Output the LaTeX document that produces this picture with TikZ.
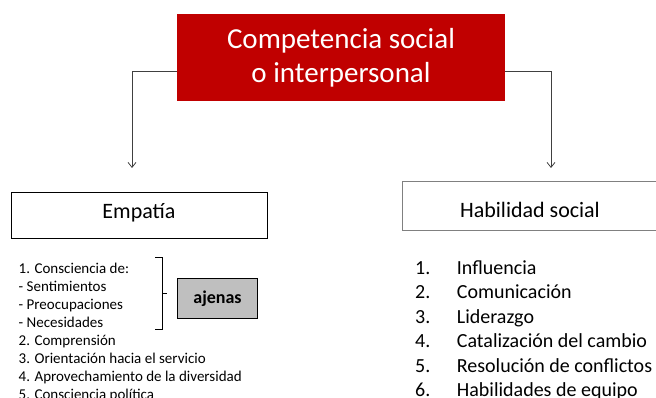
\documentclass[tikz,border=0pt]{standalone}
\usepackage{fontspec}
\setmainfont{Carlito}
\usetikzlibrary{arrows.meta}
\usetikzlibrary{positioning}
\definecolor{titlered}{HTML}{C00000}
\definecolor{linegray}{HTML}{404040}
\tikzset{
  titlebox/.style={fill=titlered, text=white, align=center, inner sep=0pt,
    minimum width=328pt, minimum height=87pt, font=\fontsize{29}{34}\selectfont},
  catbox/.style={draw=#1, line width=0.8pt, inner sep=0pt, minimum height=46pt,
    text depth=0pt, font=\fontsize{22}{26}\selectfont},
  conn/.style={draw=linegray, line width=0.8pt, -{Straight Barb[length=5pt,width=8pt]}},
  item/.style={anchor=base west, inner sep=0pt}
}

\begin{document}
\begin{tikzpicture}[x=1pt, y=-1pt]

\useasboundingbox (0,0) rectangle (656,398);

% title
\node[titlebox] (COMP) at (341,57.5) {Competencia social\\o interpersonal};

\coordinate (LA) at (132,168);
\coordinate (RA) at (551,168);
\draw[conn] ([yshift=-13.5pt]COMP.west) -| (LA);
\draw[conn] ([yshift=-13.5pt]COMP.east) -| (RA);

%%% categories
\node[catbox=black, minimum width=256pt, text height=7pt] (EMP) at (139,215.5) {Empatía};
\node[catbox=gray, minimum width=256pt, minimum height=49pt, text height=24pt] (HAB) at (530,205.5) {Habilidad social};

%%% left list
\foreach \t [count=\i] in {1. Consciencia de:, - Sentimientos, - Preocupaciones, - Necesidades,
    2. Comprensión, 3. Orientación hacia el servicio, 4. Aprovechamiento de la diversidad,
    5. Consciencia política}
  \node[item, font=\fontsize{15}{18}\selectfont] (L\i) at (18.5,{273+18*(\i-1)}) {\t};

% brace
\draw[line width=0.8pt] (155,257) -- (162,257) -- (162,329) -- (155,329);
\draw[line width=0.8pt] (162,293) -- (167,293);
\node[draw=black, line width=1.6pt, fill=gray!50, minimum width=80pt, minimum height=40pt,
  font=\bfseries\fontsize{18}{22}\selectfont] (AJ) at (217.5,298.5) {ajenas};

%%% right list
\foreach \t [count=\i] in {Influencia, Comunicación, Liderazgo, Catalización del cambio,
    Resolución de conflictos, Habilidades de equipo} {
  \node[item, font=\fontsize{20}{24}\selectfont] (N\i) at (415,{274.5+24.4*(\i-1)}) {\i.};
  \node[item, font=\fontsize{20}{24}\selectfont] (R\i) at (456.7,{274.5+24.4*(\i-1)}) {\t};
}

\end{tikzpicture}
\end{document}
